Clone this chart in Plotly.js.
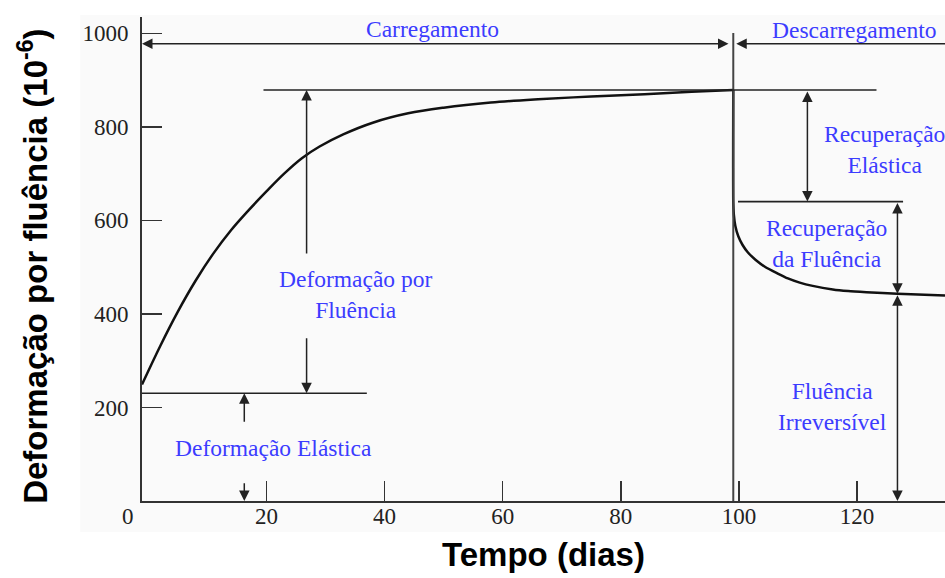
<!DOCTYPE html>
<html>
<head>
<meta charset="utf-8">
<script src="https://cdn.plot.ly/plotly-3.0.1.min.js"></script>
<style>html,body{margin:0;padding:0;background:#fff;}#chart{width:945px;height:578px;}</style>
</head>
<body>
<div id="chart"></div>
<script>
// ---- data ----
const loadDays   = [-1.07, 2, 5, 8, 11, 14, 17, 20, 23, 26, 29, 33, 38, 44, 50, 58, 66, 75, 84, 92, 99.05];
const loadStrain = [249, 331, 405, 471, 529, 579, 622, 662, 700, 733, 758, 784, 809, 829, 841, 852, 859, 865, 870, 875, 879];
const unloadDays   = [99.05, 99.05, 99.15, 99.4, 99.9, 100.6, 101.5, 102.8, 104.4, 106.5, 108.3, 110.3, 112.5, 115.9, 118.5, 121.6, 126.85, 134.9];
const unloadStrain = [879, 640, 612, 588, 566, 548, 532, 516, 501, 487, 476, 467, 460, 452.4, 449, 446.6, 443.3, 439.6];
const xTicks = [20, 40, 60, 80, 100, 120];
const yTicks = [200, 400, 600, 800, 1000];

// key levels (data units)
const tStart = -1.07, tUnload = 99.05, tEnd = 134.9;
const elasticLevel = 230.4, peakLevel = 879, recoveryLevel = 640.2, residualLevel = 443.3, phaseLevel = 978;

const blue = '#3c3cff';
const serif = 'Liberation Serif, Times New Roman, serif';
const sans = 'Liberation Sans, Arial, sans-serif';
const ink = '#222';

const traces = [
  {x: loadDays, y: loadStrain, mode: 'lines', line: {color: '#111', width: 2.5, shape: 'spline', smoothing: 1}, hoverinfo: 'skip'},
  {x: unloadDays, y: unloadStrain, mode: 'lines', line: {color: '#111', width: 2.5, shape: 'spline', smoothing: 0.6}, hoverinfo: 'skip'}
];

function arrow(x, y, ax, ay, both) {
  return {x: x, y: y, ax: ax, ay: ay, xref: 'x', yref: 'y', axref: 'x', ayref: 'y', text: '',
    showarrow: true, arrowhead: 2, startarrowhead: 2, arrowsize: 1.4, startarrowsize: 1.4, arrowwidth: 1.5,
    arrowcolor: '#222', arrowside: both ? 'end+start' : 'end', standoff: 0, startstandoff: 0};
}
function label(x, y, text) {
  return {x: x, y: y, xref: 'x', yref: 'y', text: text, showarrow: false, xanchor: 'center', yanchor: 'middle',
    font: {family: serif, size: 23.5, color: blue}};
}

const annotations = [
  arrow(tStart, phaseLevel, 98.5, phaseLevel, true),
  arrow(99.55, phaseLevel, tEnd + 2, phaseLevel, false),
  arrow(26.8, peakLevel, 26.8, 526, false),
  arrow(26.8, elasticLevel, 26.8, 351, false),
  arrow(16.25, elasticLevel, 16.25, 166, false),
  arrow(16.25, 0, 16.25, 41, false),
  arrow(111.6, recoveryLevel, 111.6, peakLevel, true),
  arrow(126.85, residualLevel, 126.85, recoveryLevel, true),
  arrow(126.85, 0, 126.85, residualLevel, true),
  label(48.2, 1010, 'Carregamento'),
  label(119.5, 1008, 'Descarregamento'),
  label(35.1, 441, 'Deformação por<br>Fluência'),
  label(21.2, 113, 'Deformação Elástica'),
  label(124.7, 751, 'Recuperação<br>Elástica'),
  label(114.9, 550, 'Recuperação<br>da Fluência'),
  label(115.9, 202, 'Fluência<br>Irreversível'),
  {x: -0.0174, y: -0.033, xref: 'paper', yref: 'paper', text: '0', showarrow: false, xanchor: 'center', yanchor: 'middle',
    font: {family: serif, size: 23, color: ink}},
  {x: -0.136, y: 0.4855, xref: 'paper', yref: 'paper', text: 'Deformação por fluência (10<sup>-6</sup>)', textangle: -90,
    showarrow: false, xanchor: 'center', yanchor: 'middle',
    font: {family: sans, size: 33, color: '#000', weight: 'bold'}}
];

const shapes = [
  {type: 'rect', xref: 'paper', yref: 'paper', x0: -0.077, x1: 1, y0: -0.064, y1: 1.004, fillcolor: '#fafafa', line: {width: 0}, layer: 'below'},
  {type: 'line', xref: 'x', yref: 'y', x0: tUnload, x1: tUnload, y0: 0, y1: 1001, line: {color: '#444', width: 2}},
  {type: 'line', xref: 'x', yref: 'y', x0: 19.5, x1: 123.3, y0: peakLevel, y1: peakLevel, line: {color: '#222', width: 1.6}},
  {type: 'line', xref: 'x', yref: 'y', x0: tStart, x1: 37.0, y0: elasticLevel, y1: elasticLevel, line: {color: '#222', width: 1.6}},
  {type: 'line', xref: 'x', yref: 'y', x0: 99.85, x1: 127.8, y0: recoveryLevel, y1: recoveryLevel, line: {color: '#222', width: 1.6}}
];

const axisCommon = {showline: true, linewidth: 2, linecolor: '#333', ticks: 'inside', ticklen: 20, tickwidth: 1.5,
  tickcolor: '#333', showgrid: false, zeroline: false, tickfont: {family: serif, size: 23, color: ink}, fixedrange: true};

const layout = {
  width: 945, height: 578,
  margin: {l: 142, r: 0, t: 17, b: 77, pad: 0},
  paper_bgcolor: '#ffffff', plot_bgcolor: 'rgba(0,0,0,0)',
  showlegend: false,
  xaxis: Object.assign({}, axisCommon, {range: [tStart, tEnd], tickvals: xTicks, ticktext: xTicks.map(String),
    ticklabelstandoff: -7,
    title: {text: 'Tempo (dias)', font: {family: sans, size: 33, color: '#000', weight: 'bold'}, standoff: 15}}),
  yaxis: Object.assign({}, axisCommon, {range: [0, 1035], tickvals: yTicks, ticktext: yTicks.map(String),
    ticklabelstandoff: 7}),
  annotations: annotations,
  shapes: shapes
};

Plotly.newPlot('chart', traces, layout, {displayModeBar: false, staticPlot: true});
</script>
</body>
</html>
